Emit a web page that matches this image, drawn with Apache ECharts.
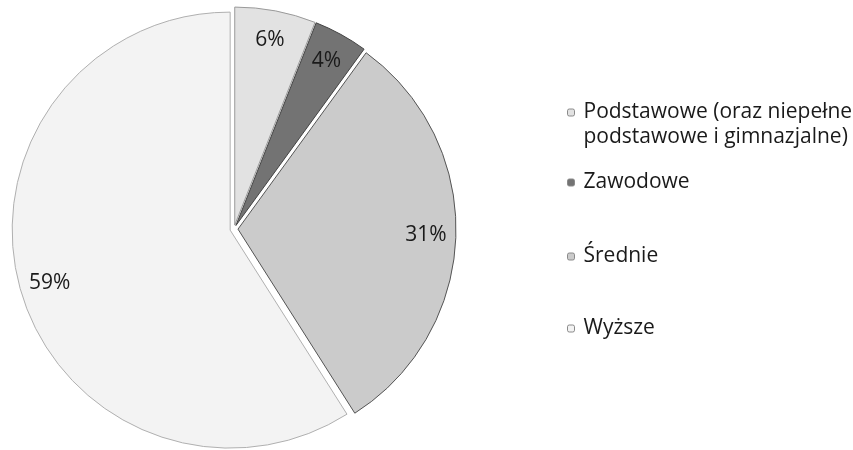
<!DOCTYPE html>
<html>
<head>
<meta charset="utf-8">
<script src="https://cdn.jsdelivr.net/npm/echarts@6/dist/echarts.min.js"></script>
<style>html,body{margin:0;padding:0;background:#fff}#c{width:853px;height:450px}</style>
</head>
<body>
<div id="c"></div>
<script>
var categories = ["Podstawowe (oraz niepełne podstawowe i gimnazjalne)", "Zawodowe", "Średnie", "Wyższe"];
var values = [6, 4, 31, 59];
var legendTops = [75, 170, 244, 316];

var colors = ['#e2e2e2', '#737373', '#cbcbcb', '#f3f3f3'];
var borders = ['#9a9a9a', '#444444', '#555555', '#b0b0b0'];
var FONT = '"Open Sans", sans-serif';

var mainData = categories.map(function (c, i) {
  return { name: c, value: values[i], selected: true,
    itemStyle: { color: colors[i], borderColor: borders[i], borderWidth: 1 } };
});
var labelData = categories.map(function (c, i) {
  return { name: c, value: values[i] };
});

var legends = categories.map(function (c, i) {
  var lg = {
    data: [{ name: c, itemStyle: { color: colors[i], borderColor: '#8a8a8a', borderWidth: 1 } }],
    orient: 'vertical', left: 567, top: legendTops[i], padding: 0,
    itemWidth: 7, itemHeight: 7, itemGap: 10, selectedMode: false,
    textStyle: { fontFamily: FONT, fontSize: 21, color: '#1a1a1a', lineHeight: 25, padding: [0, 0, 0, 4] }
  };
  if (i === 0) {
    lg.formatter = function () { return '{s| }\n{a|Podstawowe (oraz niepełne}\n{a|podstawowe i gimnazjalne)}'; };
    lg.textStyle = { fontFamily: FONT, fontSize: 21, color: '#1a1a1a', lineHeight: 25,
      rich: {
        s: { fontFamily: FONT, fontSize: 21, lineHeight: 25, height: 25, padding: [0, 0, 0, 4] },
        a: { fontFamily: FONT, fontSize: 21, lineHeight: 25, height: 25, color: '#1a1a1a', padding: [0, 0, 0, 4] }
      } };
  }
  return lg;
});

var chart = echarts.init(document.getElementById('c'), null, { renderer: 'canvas' });
chart.setOption({
  animation: false,
  backgroundColor: '#ffffff',
  legend: legends,
  series: [{
    type: 'pie', center: [234, 229], radius: [0, 218], startAngle: 90, clockwise: true,
    selectedMode: 'multiple', selectedOffset: 4,
    label: { show: false }, labelLine: { show: false },
    emphasis: { disabled: true },
    select: { itemStyle: {} },
    data: mainData
  }, {
    type: 'pie', center: [234, 229], radius: [160, 218], startAngle: 90, clockwise: true,
    silent: true,
    itemStyle: { color: 'rgba(0,0,0,0)', borderWidth: 0 },
    label: { show: true, position: 'inside', formatter: '{c}%', fontFamily: FONT, fontSize: 21, color: '#1a1a1a' },
    labelLine: { show: false },
    data: labelData
  }]
});
</script>
</body>
</html>
